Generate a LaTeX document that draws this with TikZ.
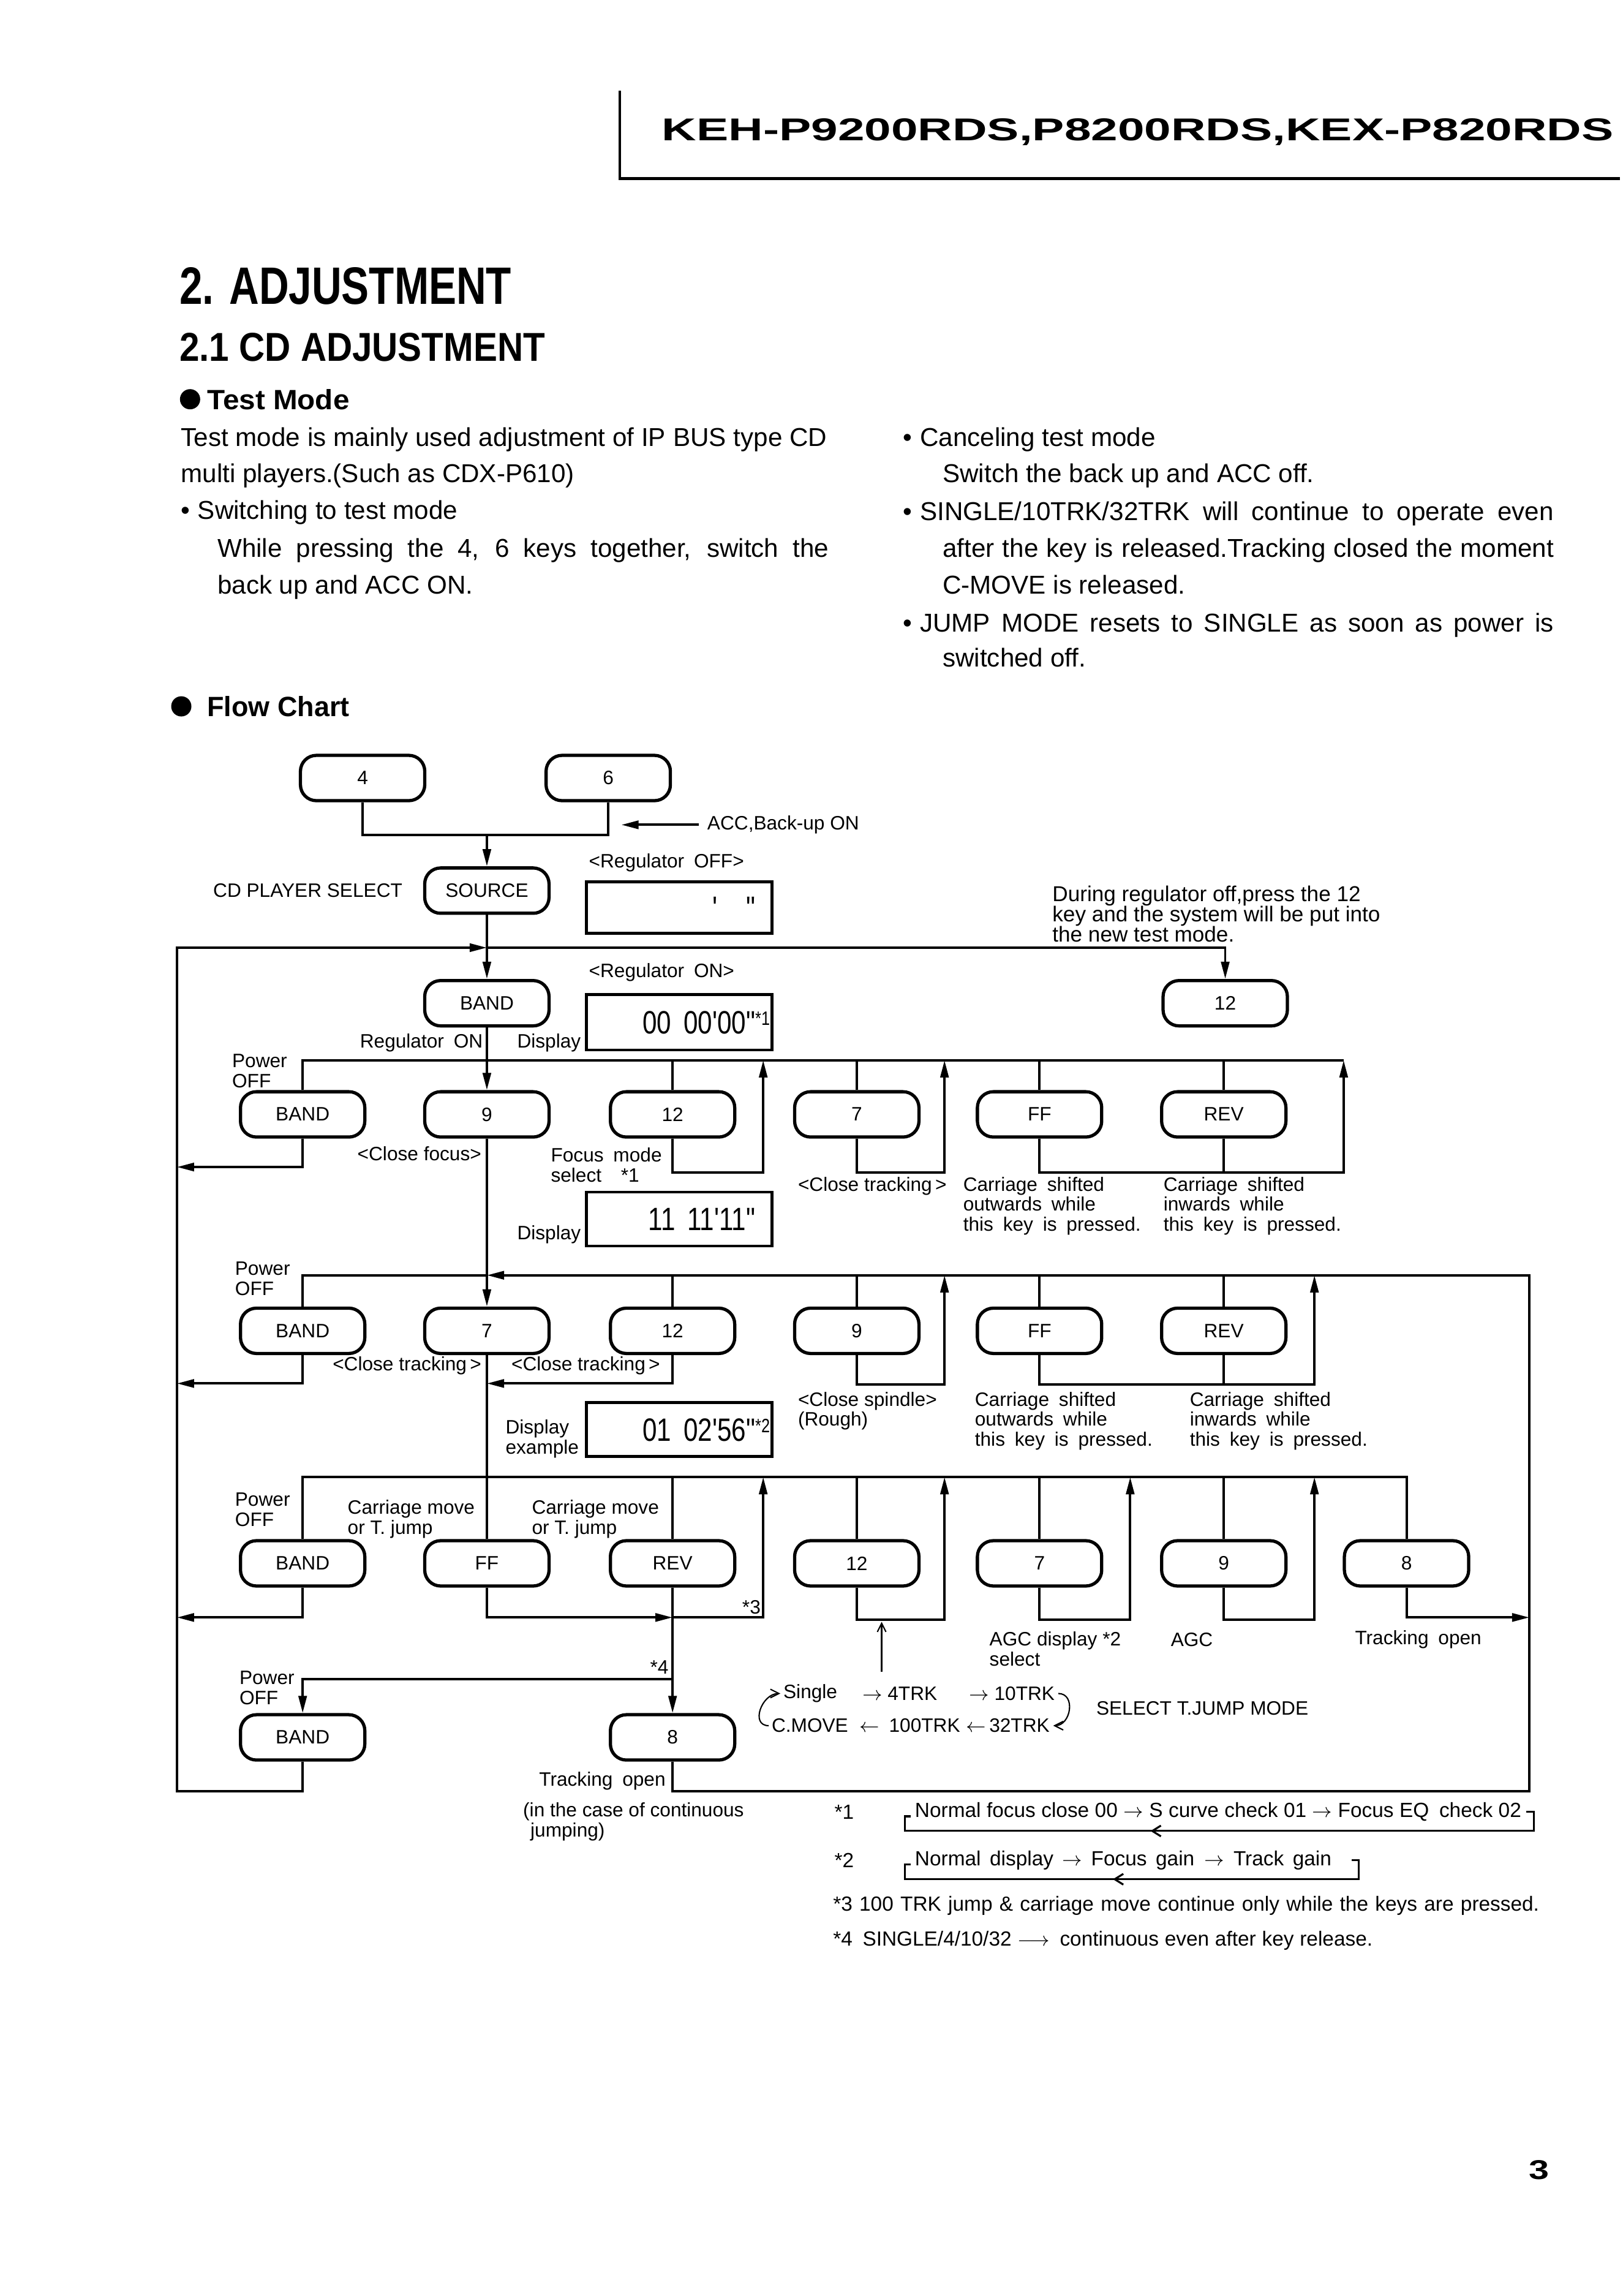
\documentclass[tikz,border=0pt]{standalone}
\usepackage{fontspec}
\setmainfont{Liberation Sans}
\newfontfamily\lcdfont[FakeStretch=0.8]{Liberation Sans}
\usepackage{amsmath}
\usepackage{graphicx}
\usetikzlibrary{arrows.meta}
\usetikzlibrary{calc}
\usetikzlibrary{decorations.markings}

\newcommand{\fcfont}{\fontsize{9}{9.3}\selectfont}
\newcommand{\notefont}{\fontsize{9.5}{10}\selectfont}
\newcommand{\txtfont}{\fontsize{12}{17}\selectfont}

\begin{document}
\begin{tikzpicture}[x=0.23875mm, y=-0.23875mm, line width=1.1pt,
	retline/.style={line width=0.9pt, postaction={decorate},
	  decoration={markings, mark=at position #1 with {\arrow{Straight Barb[length=4pt, width=5pt]}}}}]
	\tikzstyle{btn}=[draw, line width=1.5pt, rounded corners=2.6mm, minimum width=20.3mm,
	                 minimum height=7.4mm, inner sep=0pt, font=\fcfont];
	\tikzstyle{disp}=[draw, line width=1.3pt, minimum width=30.3mm, inner sep=0pt];
	\tikzstyle{lcd}=[inner sep=0pt, font=\lcdfont\fontsize{15}{15}\selectfont];
	\tikzstyle{la}=[inner sep=0pt, font=\fcfont, align=left];
	\tikzstyle{txt}=[inner sep=0pt, font=\txtfont, anchor=base west];
	\tikzstyle{arr}=[-{Triangle[length=8pt, width=3.8pt]}];
	\tikzstyle{thinarr}=[line width=0.6pt, -{Straight Barb[length=4pt, width=4pt]}];

	\fill[white] (0,0) rectangle (1110,1570);
	\useasboundingbox (0,0) rectangle (1110,1570);

	% page head
	\draw[line width=1.3pt] (424,62) -- (424,122) -- (1108,122);
	\node[inner sep=0pt, anchor=base west] (model) at (452,96)
	  {\resizebox{155.4mm}{3.6mm}{\bfseries KEH-P9200RDS,P8200RDS,KEX-P820RDS}};
	\node[inner sep=0pt, anchor=base west] (pageno) at (1045,1490)
	  {\resizebox{3.3mm}{3.1mm}{\bfseries 3}};

	% headings
	\node[inner sep=0pt, anchor=base west] (sec) at (122,208) {\resizebox{54.2mm}{6mm}{\bfseries 2. ADJUSTMENT}};
	\node[inner sep=0pt, anchor=base west] (subsec) at (122,247) {\resizebox{59.7mm}{4.6mm}{\bfseries 2.1 CD ADJUSTMENT}};
	\node[circle, fill, inner sep=0pt, minimum size=3.3mm] (dotA) at (130,273) {};
	\node[inner sep=0pt, anchor=base west] (testmode) at (141,280) {\resizebox{23.2mm}{3.3mm}{\bfseries Test Mode}};
	\node[circle, fill, inner sep=0pt, minimum size=3.3mm] (dotB) at (124,483) {};
	\node[inner sep=0pt, anchor=base west] (flowchart) at (141,490) {\resizebox{23.2mm}{3.3mm}{\bfseries Flow Chart}};

	% test mode text
	\node[txt] (tmA) at (123,305) {\makebox[105.5mm][s]{Test mode is mainly used adjustment of IP BUS type CD}};
	\node[txt] (tmB) at (123,330) {multi players.(Such as CDX-P610)};
	\node[txt] (tmC) at (123,355) {•\kern0.3em Switching to test mode};
	\node[txt] (tmD) at (148,381) {\makebox[99.8mm][s]{While pressing the 4, 6 keys together, switch the}};
	\node[txt] (tmE) at (148,406) {back up and ACC ON.};
	\node[txt] (cnA) at (617,305) {•\kern0.3em Canceling test mode};
	\node[txt] (cnB) at (644,330) {Switch the back up and ACC off.};
	\node[txt] (cnC) at (617,356) {\makebox[106.2mm][s]{•\kern0.3em SINGLE/10TRK/32TRK will continue to operate even}};
	\node[txt] (cnD) at (644,381) {\makebox[99.8mm][s]{after the key is released.Tracking closed the moment}};
	\node[txt] (cnE) at (644,406) {C-MOVE is released.};
	\node[txt] (cnF) at (617,432) {\makebox[106.2mm][s]{•\kern0.3em JUMP MODE resets to SINGLE as soon as power is}};
	\node[txt] (cnG) at (644,456) {switched off.};

	% keys
	\foreach \n/\x/\t in {kfour/248/4,ksix/416/6}
	  {\node[btn] (\n) at (\x,532) {\t};}
	\node[btn] (source) at (333,609) {SOURCE};
	\node[btn] (bandR) at (333,686) {BAND};
	\node[btn] (twelveR) at (838,686) {12};
	\foreach \n/\x/\t in {bandA/207/BAND,nineA/333/9,twelveA/460/12,sevenA/586/7,ffA/711/FF,revA/837/REV}
	  {\node[btn] (\n) at (\x,762) {\t};}
	\foreach \n/\x/\t in {bandB/207/BAND,sevenB/333/7,twelveB/460/12,nineB/586/9,ffB/711/FF,revB/837/REV}
	  {\node[btn] (\n) at (\x,910) {\t};}
	\foreach \n/\x/\t in {bandC/207/BAND,ffC/333/FF,revC/460/REV,twelveC/586/12,sevenC/711/7,nineC/837/9,eightC/962/8}
	  {\node[btn] (\n) at (\x,1069) {\t};}
	\foreach \n/\x/\t in {bandD/207/BAND,eightD/460/8}
	  {\node[btn] (\n) at (\x,1188) {\t};}

	% displays
	\node[disp, minimum height=8.4mm] (dispOff) at (464.5,620.5) {};
	\node[disp, minimum height=9.1mm] (dispOn) at (464.5,699) {};
	\node[disp, minimum height=8.8mm] (dispFocus) at (464.5,833.5) {};
	\node[disp, minimum height=8.8mm] (dispEx) at (464.5,977.5) {};
	\node[lcd, anchor=base east] (lcdOff) at ($(dispOff.east)+(-1.5,8)$)
	  {\phantom{00\hspace{2mm}00}'\phantom{00}"\phantom{\fcfont *1}};
	\node[lcd, anchor=base east] (lcdOn) at ($(dispOn.east)+(-1.5,8)$)
	  {00\hspace{2mm}00'00"\raisebox{1.4mm}{\fcfont *1}};
	\node[lcd, anchor=base east] (lcdFocus) at ($(dispFocus.east)+(-1.5,8)$)
	  {11\hspace{2mm}11'11"\phantom{\fcfont *1}};
	\node[lcd, anchor=base east] (lcdEx) at ($(dispEx.east)+(-1.5,8)$)
	  {01\hspace{2mm}02'56"\raisebox{1.4mm}{\fcfont *2}};

	% labels
	\node[la, anchor=west] (accOn) at (483,564) {ACC,Back-up ON};
	\node[la, anchor=west] (regOff) at (402,590) {<Regulator\enspace OFF>};
	\node[la, anchor=east] (cdSel) at (276,609) {CD PLAYER SELECT};
	\node[la, anchor=north west, font=\fontsize{10}{9.4}\selectfont] (during) at (719,605)
	  {During regulator off,press the 12\\key and the system will be put into\\the new test mode.};
	\node[la, anchor=west] (regOn) at (402,665) {<Regulator\enspace ON>};
	\node[la, anchor=east] (regOnLbl) at (331,713) {Regulator\enspace ON};
	\node[la, anchor=east] (dispLblA) at (398,713) {Display};
	\node[la, anchor=north west] (pwrA) at (158,720) {Power\\OFF};
	\node[la, anchor=east] (closeFocus) at (330,789) {<Close focus>};
	\node[la, anchor=north west] (focusMode) at (376,784) {Focus\enspace mode\\select\quad *1};
	\node[la, anchor=east] (dispLblB) at (398,844) {Display};
	\node[la, anchor=west] (closeTrkA) at (545,811) {<Close tracking\,>};
	\node[la, anchor=north west] (outA) at (658,804)
	  {Carriage\enspace shifted\\outwards\enspace while\\this\enspace key\enspace is\enspace pressed.};
	\node[la, anchor=north west] (inA) at (795,804)
	  {Carriage\enspace shifted\\inwards\enspace while\\this\enspace key\enspace is\enspace pressed.};
	\node[la, anchor=north west] (pwrB) at (160,862) {Power\\OFF};
	\node[la, anchor=east] (closeTrkB) at (330,934) {<Close tracking\,>};
	\node[la, anchor=west] (closeTrkC) at (349,934) {<Close tracking\,>};
	\node[la, anchor=north west] (spindle) at (545,951) {<Close spindle>\\(Rough)};
	\node[la, anchor=north west] (outB) at (666,951)
	  {Carriage\enspace shifted\\outwards\enspace while\\this\enspace key\enspace is\enspace pressed.};
	\node[la, anchor=north west] (inB) at (813,951)
	  {Carriage\enspace shifted\\inwards\enspace while\\this\enspace key\enspace is\enspace pressed.};
	\node[la, anchor=north west] (dispLblC) at (345,970) {Display\\example};
	\node[la, anchor=north west] (pwrC) at (160,1020) {Power\\OFF};
	\node[la, anchor=north west] (cmA) at (237,1025) {Carriage move\\or T. jump};
	\node[la, anchor=north west] (cmB) at (363,1025) {Carriage move\\or T. jump};
	\node[la, anchor=east] (starC) at (521,1099) {*3};
	\node[la, anchor=east] (starD) at (458,1140) {*4};
	\node[la, anchor=north west] (agcSel) at (676,1115) {AGC display *2\\select};
	\node[la, anchor=west] (agc) at (800,1121) {AGC};
	\node[la, anchor=west] (trkOpenR) at (926,1121) {Tracking\enspace open};
	\node[la, anchor=north west] (pwrD) at (163,1142) {Power\\OFF};
	\node[la, anchor=east] (trkOpen) at (456,1218) {Tracking\enspace open};
	\node[la, anchor=north west] (contJump) at (357,1232) {(in the case of continuous\\\hspace*{1.2mm}jumping)};

	% jump mode
	\node[la, anchor=west] (tSingle) at (535,1158) {Single};
	\node[la, anchor=west] (tFour) at (589,1158) {$\rightarrow$ 4TRK};
	\node[la, anchor=west] (tTen) at (662,1158) {$\rightarrow$ 10TRK};
	\node[la, anchor=west] (tCmove) at (527,1180) {C.MOVE};
	\node[la, anchor=west] (tHundred) at (587,1180) {$\leftarrow$\enspace 100TRK};
	\node[la, anchor=west] (tThirty) at (660,1180) {$\leftarrow$\,32TRK};
	\node[la, anchor=west] (selMode) at (749,1168) {SELECT T.JUMP MODE};
	\draw[thinarr] ([xshift=-0.3mm]tCmove.west) to[out=180, in=180, looseness=1.4] ([xshift=-0.3mm]tSingle.west);
	\draw[thinarr] ([xshift=0.4mm]tTen.east) to[out=0, in=0, looseness=1.4] ([xshift=0.4mm]tThirty.east);
	\coordinate (jselFrom) at (603,1143);
	\coordinate (jselTo) at (603,1109);
	\draw[thinarr] (jselFrom) -- (jselTo);

	% top part
	\coordinate (j46) at (333,571);
	\coordinate (accTip) at (425,564);
	\coordinate (topm) at (333,648);
	\draw (kfour.south) |- (j46) -| (ksix.south);
	\draw[arr] (j46) -- (source.north);
	\draw[arr] ([xshift=-1.2mm]accOn.west) -- (accTip);
	\draw[arr] (source.south) -- (bandR.north);
	\draw[arr] (topm) -| (twelveR.north);
	\draw[arr] (bandR.south) -- (nineA.north);

	% row A
	\coordinate (r1e) at (919,725);
	\draw (bandA.north) |- (r1e);
	\foreach \n in {twelveA,sevenA,ffA,revA}
	  {\draw (\n.north) -- (\n.north |- r1e);}
	\foreach \n/\r in {twelveA/522,sevenA/646,ffA/919}
	  {\coordinate (\n-up) at (\r,725);
	   \draw[arr] (\n.south) -- ++(0,23) -| (\n-up);}
	\draw (revA.south) -- ++(0,23);

	% row B
	\coordinate (r2m) at (333,872);
	\coordinate (c2) at (333,946);
	\draw (bandB.north) |- (r2m);
	\draw[arr] (nineA.south) -- (sevenB.north);
	\foreach \n in {twelveB,nineB,ffB,revB}
	  {\draw (\n.north) -- (\n.north |- r2m);}
	\draw[arr] (twelveB.south) |- (c2);
	\foreach \n/\r in {nineB/646,ffB/899}
	  {\coordinate (\n-up) at (\r,872);
	   \draw[arr] (\n.south) -- ++(0,20) -| (\n-up);}
	\draw (revB.south) -- ++(0,20);

	% row C
	\coordinate (r3e) at (962,1010);
	\coordinate (c3) at (460,1106);
	\coordinate (c4) at (460,1148);
	\coordinate (r3ret) at (522,1010);
	\coordinate (r3r) at (1046,1106);
	\draw (sevenB.south) -- (ffC.north);
	\draw (bandC.north) |- (r3e) -- (eightC.north);
	\foreach \n in {revC,twelveC,sevenC,nineC}
	  {\draw (\n.north) -- (\n.north |- r3e);}
	\draw[arr] (ffC.south) |- (c3);
	\draw[arr] (revC.south) -- (eightD.north);
	\draw[arr] (c3) -| (r3ret);
	\draw[arr] (c4) -| (bandD.north);
	\foreach \n/\r in {twelveC/646,sevenC/773,nineC/899}
	  {\coordinate (\n-up) at (\r,1010);
	   \draw[arr] (\n.south) -- ++(0,22) -| (\n-up);}
	\draw[arr] (eightC.south) |- (r3r);

	% power off exits and return lines
	\foreach \n/\y in {bandA/798,bandB/946,bandC/1106}
	  {\coordinate (\n-out) at (121,\y);
	   \draw[arr] (\n.south) |- (\n-out);}
	\coordinate (l4) at (121,1225);
	\coordinate (r4e) at (1046,1225);
	\draw[arr] (bandD.south) |- (l4) |- (topm);
	\draw[arr] (eightD.south) |- (r4e) |- (r2m);

	% notes
	\node[la, anchor=west, font=\notefont] (sOne) at (570,1239) {*1};
	\node[la, anchor=west, font=\notefont] (nOne) at (625,1239)
	  {\makebox[99mm][s]{Normal focus close 00 $\rightarrow$ S curve check 01 $\rightarrow$ Focus EQ\enspace check 02}};
	\draw[retline=0.607] ([xshift=0.6mm]nOne.east) -| ($(nOne.east)+(8,13)$) -| ($(nOne.west)+(-6,3)$) -- ++(4,0);
	\node[la, anchor=west, font=\notefont] (sTwo) at (570,1272) {*2};
	\node[la, anchor=west, font=\notefont] (nTwo) at (625,1272)
	  {\makebox[68mm][s]{Normal display $\rightarrow$ Focus gain\enspace $\rightarrow$ Track gain}};
	\draw[retline=0.544] ($(nTwo.east)+(13,0)$) -| ($(nTwo.east)+(18,13)$) -| ($(nTwo.west)+(-6,3)$) -- ++(4,0);
	\node[la, anchor=west, font=\notefont] (nThree) at (569,1303)
	  {\makebox[115.3mm][s]{*3 100 TRK jump \& carriage move continue only while the keys are pressed.}};
	\node[la, anchor=west, font=\notefont] (nFour) at (569,1327)
	  {\makebox[88.1mm][s]{*4\enspace SINGLE/4/10/32 $\longrightarrow$\enspace continuous even after key release.}};
\end{tikzpicture}
\end{document}
